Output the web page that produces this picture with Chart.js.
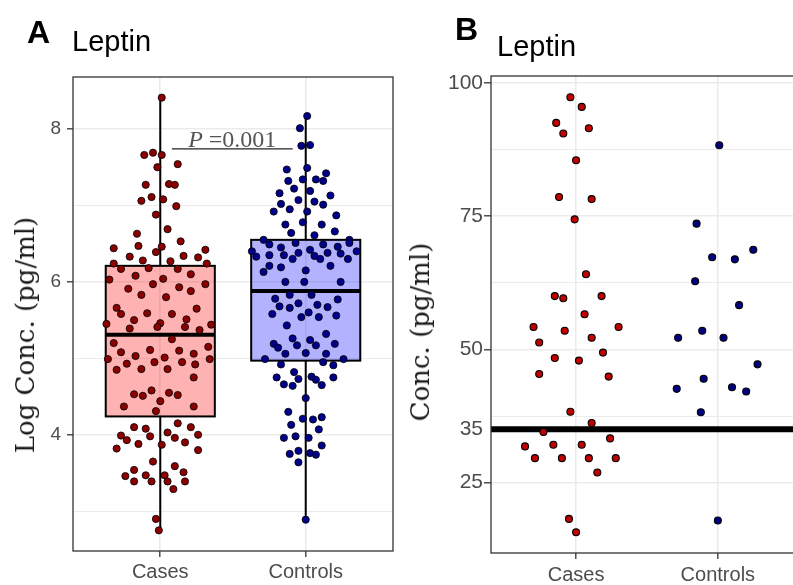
<!DOCTYPE html>
<html>
<head>
<meta charset="utf-8">
<script src="https://cdn.jsdelivr.net/npm/chart.js@4.4.0/dist/chart.umd.min.js"></script>
<style>
  body { margin: 0; width: 793px; height: 585px; overflow: hidden; background: #fff; position: relative; font-family: "Liberation Sans", Arial, sans-serif; }
  canvas { position: absolute; top: 0; }
  #chartA { left: 0; }
  #chartB { left: 400px; }
  .txt { position: absolute; line-height: 1; white-space: nowrap; color: #000; }
  .panel { font-weight: bold; font-size: 32px; }
  .title { font-size: 29px; }
  .ytitle { font-family: "DejaVu Serif", serif; font-size: 26px; color: #1a1a1a; transform: translate(-50%, -50%) rotate(-90deg); }
</style>
</head>
<body>
<canvas id="chartA" width="400" height="585"></canvas>
<canvas id="chartB" width="408" height="585"></canvas>
<div class="txt panel" style="left:27px;top:16px">A</div>
<div class="txt title" style="left:72px;top:27px">Leptin</div>
<div class="txt panel" style="left:455px;top:13px">B</div>
<div class="txt title" style="left:497px;top:32px">Leptin</div>
<div class="txt ytitle" style="left:25px;top:335px">Log Conc. (pg/ml)</div>
<div class="txt ytitle" style="left:420px;top:332px">Conc. (pg/ml)</div>
<script>
// categories on the x axis
const categories = ["Cases", "Controls"];

// panel A: log concentration, horizontal jitter in category units
const casesLog = [8.41,7.66,7.69,7.66,7.50,7.54,7.27,7.28,7.27,7.06,
  7.11,7.08,6.99,6.88,6.69,6.63,6.53,6.44,6.47,6.46,
  6.39,6.42,6.33,6.28,6.27,6.34,6.32,6.24,6.24,6.17,
  6.18,6.17,6.03,6.08,6.04,6.10,5.97,5.97,5.91,5.93,
  5.88,5.83,5.80,5.66,5.58,5.59,5.58,5.65,5.50,5.51,
  5.45,5.46,5.41,5.39,5.41,5.44,5.37,5.25,5.20,5.08,
  5.11,5.10,5.06,5.15,4.99,5.03,5.01,4.99,4.93,4.95,
  4.95,4.85,4.86,4.86,4.92,4.75,4.53,4.51,4.58,4.55,
  4.52,4.44,4.37,4.37,4.31,4.10,4.08,4.15,4.10,3.99,
  3.93,3.98,4.03,3.96,4.00,3.88,3.87,3.90,3.82,3.80,
  3.65,3.59,3.54,3.51,3.46,3.47,3.47,3.39,3.39,3.39,
  3.39,3.29,2.90,2.75];
const casesJitter = [0.01,-0.11,-0.05,0.01,-0.02,0.12,-0.10,0.06,0.10,-0.13,
  -0.06,0.02,0.11,-0.03,0.05,-0.16,0.14,-0.32,-0.15,0.01,
  -0.03,0.31,-0.21,-0.12,0.07,0.16,0.26,-0.32,0.32,-0.27,
  -0.08,0.12,-0.35,-0.17,0.02,0.21,-0.05,0.31,-0.22,0.13,
  0.21,-0.13,0.04,-0.30,-0.27,-0.09,0.08,0.25,-0.18,0.18,
  -0.37,0.00,-0.02,-0.21,0.17,0.35,0.27,0.08,-0.32,-0.27,
  -0.07,0.13,0.23,0.33,-0.36,-0.17,0.03,0.34,-0.23,-0.04,
  0.15,-0.30,-0.13,0.05,0.24,0.23,-0.18,-0.12,-0.06,0.06,
  0.12,0.00,-0.25,0.23,-0.03,-0.18,-0.10,0.12,0.21,-0.27,
  -0.23,-0.07,0.05,0.10,0.26,-0.15,0.01,0.17,-0.30,0.26,
  -0.05,0.10,-0.18,0.16,-0.24,-0.10,0.03,-0.18,-0.06,0.05,
  0.17,0.09,-0.03,-0.01];
const controlsLog = [8.17,8.01,7.78,7.79,7.47,7.49,7.42,7.32,7.34,7.34,
  7.32,7.22,7.16,7.19,7.13,7.02,7.07,7.05,7.01,6.92,
  6.95,6.92,6.87,6.78,6.75,6.75,6.64,6.61,6.66,6.55,
  6.55,6.40,6.49,6.45,6.51,6.42,6.49,6.46,6.51,6.40,
  6.33,6.35,6.35,6.30,6.38,6.34,6.30,6.38,6.37,6.30,
  6.21,6.19,6.21,6.13,6.15,6.00,6.00,6.00,5.78,5.83,
  5.83,5.77,5.68,5.66,5.72,5.70,5.67,5.58,5.54,5.60,
  5.54,5.56,5.43,5.32,5.19,5.14,5.26,5.17,5.24,5.17,
  5.19,5.06,5.07,5.06,4.99,4.99,4.92,4.95,4.91,4.82,
  4.75,4.73,4.76,4.72,4.75,4.66,4.64,4.65,4.48,4.30,
  4.21,4.20,4.23,4.13,4.07,3.96,3.98,3.96,3.86,3.79,
  3.75,3.76,3.74,3.64,2.89];
const controlsJitter = [0.01,-0.04,-0.03,0.03,-0.13,0.01,0.14,-0.12,-0.02,0.07,
  0.12,-0.08,-0.18,0.03,0.17,-0.17,-0.05,0.06,0.12,-0.22,
  -0.11,0.01,0.21,-0.02,-0.14,0.11,-0.10,0.06,0.20,-0.29,
  0.30,-0.37,-0.25,-0.17,-0.07,0.03,0.12,0.22,0.30,0.35,
  -0.34,-0.25,-0.15,-0.09,-0.05,0.06,0.10,0.15,0.24,0.29,
  -0.25,-0.17,0.17,-0.29,0.00,-0.14,-0.01,0.24,-0.21,-0.11,
  0.04,0.22,-0.18,-0.11,-0.05,0.08,0.15,-0.23,-0.03,0.02,
  0.09,0.21,-0.13,0.14,-0.22,-0.19,-0.09,-0.06,0.03,0.07,
  0.20,-0.14,0.00,0.14,-0.28,0.26,-0.17,0.12,0.19,-0.08,
  -0.20,-0.05,0.04,0.07,0.19,-0.15,-0.09,0.11,0.00,-0.12,
  -0.02,0.05,0.11,-0.10,0.09,-0.15,-0.07,0.02,0.11,-0.05,
  -0.11,0.03,0.07,-0.05,0.00];

// box plot summary (Cases, Controls)
const boxQ1 = [4.24, 4.97];
const boxMedian = [5.31, 5.88];
const boxQ3 = [6.21, 6.55];
const whiskerLow = [2.76, 2.89];
const whiskerHigh = [8.41, 8.17];

const yTicksA = [3, 4, 5, 6, 7, 8];
const yLabelsA = [4, 6, 8];

const pText = "=0.001";
const pLineX = [1.08, 1.91];
const pLineY = 7.74;

// panel B: concentration, pg/ml
const bCasesConc = [97.3,95.5,92.5,90.5,91.5,85.5,78.6,78.2,74.4,64.1,
  60.0,59.6,60.0,56.6,54.2,53.5,54.2,51.3,52.2,48.4,
  47.9,49.4,45.4,44.9,38.3,36.2,34.5,31.8,32.1,32.1,
  33.3,29.6,29.6,29.6,29.6,26.9,18.2,15.7];
const bCasesJitter = [-0.04,0.04,-0.14,-0.09,0.09,0.00,-0.12,0.11,-0.01,0.07,
  -0.15,-0.09,0.18,0.06,-0.30,-0.08,0.30,-0.26,0.11,-0.15,
  0.02,0.19,-0.26,0.23,-0.04,0.11,-0.23,-0.36,-0.16,0.04,
  0.24,-0.29,-0.10,0.09,0.28,0.15,-0.05,0.00];
const bControlsConc = [88.3,73.6,67.3,66.9,68.7,62.8,58.3,52.2,53.5,52.2,
  47.2,44.5,42.9,42.6,42.1,38.2,17.9];
const bControlsJitter = [0.01,-0.15,-0.04,0.12,0.25,-0.16,0.15,-0.28,-0.11,0.04,
  0.28,-0.10,0.10,-0.29,0.20,-0.12,0.00];

const yTicksB = [25, 35, 37.5, 50, 62.5, 75, 87.5, 100];
const yLabelsB = [25, 35, 50, 75, 100];
const yMajorB = [25, 50, 75, 100];
const threshold = 35;

function points(vals, jit, pos) {
  return vals.map(function(v, i) { return { x: pos + jit[i], y: v }; });
}

const gridGrey = "#ebebeb";
const tickGrey = "#4d4d4d";

// box, whiskers and median drawn from the scales
const boxPlugin = {
  id: "boxes",
  beforeDatasetsDraw(chart) {
    const ctx = chart.ctx, x = chart.scales.x, y = chart.scales.y;
    const fills = ["rgba(255,0,0,0.3)", "rgba(0,0,255,0.3)"];
    categories.forEach(function(c, i) {
      const cx = x.getPixelForValue(i + 1);
      const l = x.getPixelForValue(i + 1 - 0.375);
      const r = x.getPixelForValue(i + 1 + 0.375);
      const top = y.getPixelForValue(boxQ3[i]);
      const bot = y.getPixelForValue(boxQ1[i]);
      ctx.save();
      ctx.strokeStyle = "#000";
      ctx.lineWidth = 2;
      ctx.beginPath();
      ctx.moveTo(cx, y.getPixelForValue(whiskerHigh[i]));
      ctx.lineTo(cx, top);
      ctx.moveTo(cx, bot);
      ctx.lineTo(cx, y.getPixelForValue(whiskerLow[i]));
      ctx.stroke();
      ctx.fillStyle = fills[i];
      ctx.fillRect(l, top, r - l, bot - top);
      ctx.strokeRect(l, top, r - l, bot - top);
      const m = y.getPixelForValue(boxMedian[i]);
      ctx.lineWidth = 4;
      ctx.beginPath();
      ctx.moveTo(l, m);
      ctx.lineTo(r, m);
      ctx.stroke();
      ctx.restore();
    });
  },
  afterDraw(chart) {
    const ctx = chart.ctx, x = chart.scales.x, y = chart.scales.y;
    // p-value bracket
    const x0 = x.getPixelForValue(pLineX[0]), x1 = x.getPixelForValue(pLineX[1]);
    const py = y.getPixelForValue(pLineY);
    ctx.save();
    ctx.strokeStyle = "#222";
    ctx.lineWidth = 1.3;
    ctx.beginPath();
    ctx.moveTo(x0, py);
    ctx.lineTo(x1, py);
    ctx.stroke();
    ctx.fillStyle = "#555";
    ctx.textBaseline = "alphabetic";
    ctx.font = "italic 24px 'Liberation Serif'";
    const wP = ctx.measureText("P ").width;
    ctx.font = "24px 'Liberation Serif'";
    const wT = ctx.measureText(pText).width;
    let tx = (x0 + x1) / 2 - (wP + wT) / 2;
    ctx.font = "italic 24px 'Liberation Serif'";
    ctx.fillText("P ", tx, py - 2);
    ctx.font = "24px 'Liberation Serif'";
    ctx.fillText(pText, tx + wP, py - 2);
    ctx.restore();
  }
};

const borderPlugin = {
  id: "panelBorder",
  afterDraw(chart) {
    const a = chart.chartArea, ctx = chart.ctx;
    ctx.save();
    ctx.strokeStyle = "#333";
    ctx.lineWidth = 1.3;
    ctx.strokeRect(a.left, a.top, a.right - a.left, a.bottom - a.top);
    ctx.restore();
  }
};

function xScale(height, pad) {
  return {
    type: "linear",
    min: 0.4,
    max: 2.6,
    afterBuildTicks: function(s) { s.ticks = [{ value: 1 }, { value: 2 }]; },
    afterFit: function(s) { s.height = height; },
    ticks: {
      callback: function(v) { return categories[v - 1]; },
      color: tickGrey,
      padding: pad,
      font: { family: "Liberation Sans", size: 20 }
    },
    grid: { color: gridGrey, lineWidth: 1.6, tickColor: "#333", tickLength: 6, tickWidth: 1.3 },
    border: { display: false }
  };
}

new Chart(document.getElementById("chartA"), {
  type: "scatter",
  data: {
    datasets: [
      { label: "Cases", data: points(casesLog, casesJitter, 1), backgroundColor: "#8b0000", borderColor: "#000", borderWidth: 0.8, pointRadius: 3.6 },
      { label: "Controls", data: points(controlsLog, controlsJitter, 2), backgroundColor: "#00008b", borderColor: "#000", borderWidth: 0.8, pointRadius: 3.6 }
    ]
  },
  options: {
    responsive: false,
    animation: false,
    layout: { padding: { left: 0, top: 77, right: 7, bottom: 0 } },
    plugins: { legend: { display: false }, tooltip: { enabled: false } },
    scales: {
      x: xScale(34, 3),
      y: {
        min: 2.48,
        max: 8.68,
        afterBuildTicks: function(s) { s.ticks = yTicksA.map(function(v) { return { value: v }; }); },
        afterFit: function(s) { s.width = 73; },
        ticks: {
          callback: function(v) { return yLabelsA.indexOf(v) >= 0 ? String(v) : ""; },
          color: tickGrey,
          padding: 6,
          font: { family: "Liberation Sans", size: 19 }
        },
        grid: {
          color: gridGrey,
          lineWidth: function(c) { return yLabelsA.indexOf(c.tick.value) >= 0 ? 1.6 : 1.0; },
          tickColor: function(c) { return yLabelsA.indexOf(c.tick.value) >= 0 ? "#333" : "rgba(0,0,0,0)"; },
          tickLength: 6,
          tickWidth: 1.3
        },
        border: { display: false }
      }
    }
  },
  plugins: [boxPlugin, borderPlugin]
});

new Chart(document.getElementById("chartB"), {
  type: "scatter",
  data: {
    datasets: [
      { label: "Cases", data: points(bCasesConc, bCasesJitter, 1), backgroundColor: "#c00000", borderColor: "#000", borderWidth: 1.1, pointRadius: 3.5, order: 1 },
      { label: "Controls", data: points(bControlsConc, bControlsJitter, 2), backgroundColor: "#000080", borderColor: "#000", borderWidth: 1.1, pointRadius: 3.5, order: 1 },
      { type: "line", label: "35 pg/ml", data: [{ x: 0.4, y: threshold }, { x: 2.6, y: threshold }], borderColor: "#000", borderWidth: 6, pointRadius: 0, order: 2 }
    ]
  },
  options: {
    responsive: false,
    animation: false,
    layout: { padding: { left: 0, top: 76, right: 4, bottom: 0 } },
    plugins: { legend: { display: false }, tooltip: { enabled: false } },
    scales: {
      x: xScale(32, 4),
      y: {
        min: 11.8,
        max: 101.3,
        afterBuildTicks: function(s) { s.ticks = yTicksB.map(function(v) { return { value: v }; }); },
        afterFit: function(s) { s.width = 91; },
        ticks: {
          callback: function(v) { return yLabelsB.indexOf(v) >= 0 ? String(v) : ""; },
          color: tickGrey,
          padding: 1,
          font: { family: "Liberation Sans", size: 21 }
        },
        grid: {
          color: function(c) { return c.tick.value === threshold ? "rgba(0,0,0,0)" : gridGrey; },
          lineWidth: function(c) { return yMajorB.indexOf(c.tick.value) >= 0 ? 1.6 : 1.0; },
          tickColor: function(c) { return yMajorB.indexOf(c.tick.value) >= 0 ? "#333" : "rgba(0,0,0,0)"; },
          tickLength: 7,
          tickWidth: 1.3
        },
        border: { display: false }
      }
    }
  },
  plugins: [borderPlugin]
});
</script>
</body>
</html>
